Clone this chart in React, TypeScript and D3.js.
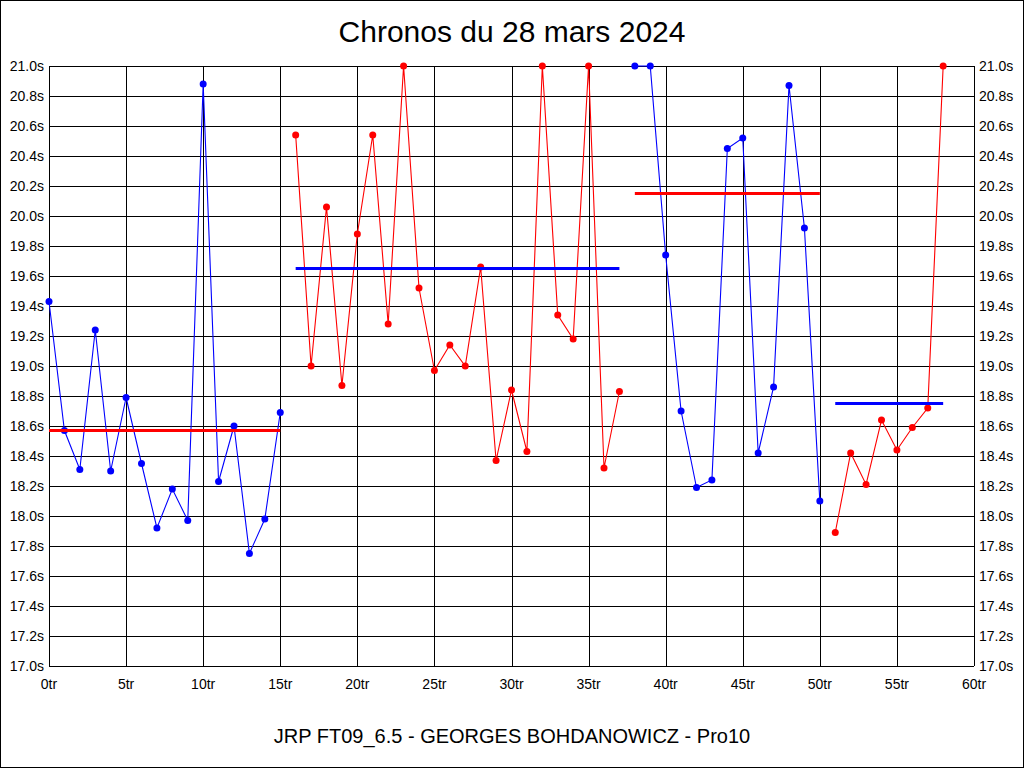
import * as d3 from 'd3';
import React, { useEffect, useRef } from 'react';

// lap times per stint (values above 21.0s are shown clipped at 21.0s)
const stint1 = [19.43, 18.57, 18.31, 19.24, 18.3, 18.79, 18.35, 17.92, 18.18, 17.97, 20.88, 18.23, 18.6, 17.75, 17.98, 18.69];
const stint2 = [
    20.54, 19.0, 20.06, 18.87, 19.88, 20.54, 19.28, 21.0, 19.52, 18.97, 19.14, 19.0, 19.66, 18.37, 18.84, 18.43, 21.0,
    19.34, 19.18, 21.0, 18.32, 18.83,
];
const stint3 = [21.0, 21.0, 19.74, 18.7, 18.19, 18.24, 20.45, 20.52, 18.42, 18.86, 20.87, 19.92, 18.1];
const stint4 = [17.89, 18.42, 18.21, 18.64, 18.44, 18.59, 18.72, 21.0];
const stintStarts = [0, 16, 38, 51];
const stintMeans = [18.57, 19.65, 20.15, 18.75];

const xTicks = d3.range(0, 61, 5);
const yTicks = d3.range(0, 21).map((i) => 17 + i * 0.2);

const title = 'Chronos du 28 mars 2024';
const subtitle = 'JRP FT09_6.5 - GEORGES BOHDANOWICZ - Pro10';

const App = () => {
    const width = 1024;
    const height = 768;
    const margin = { top: 66, bottom: 102, left: 49, right: 50 };
    const ref = useRef<SVGSVGElement>(null);

    useEffect(() => {
        document.body.style.margin = '0';
        draw();
    }, []);

    const draw = () => {
        const svg = d3.select(ref.current);
        svg.selectAll('*').remove();

        const x = d3
            .scaleLinear()
            .domain([0, 60])
            .range([margin.left, width - margin.right]);
        const y = d3
            .scaleLinear()
            .domain([17, 21])
            .range([height - margin.bottom, margin.top]);

        svg.append('rect')
            .attr('x', 0.5)
            .attr('y', 0.5)
            .attr('width', width - 1)
            .attr('height', height - 1)
            .attr('fill', '#fff')
            .attr('stroke', '#000');

        const font = 'Arial, "Liberation Sans", sans-serif';

        svg.append('text')
            .attr('x', width / 2)
            .attr('y', 42)
            .attr('text-anchor', 'middle')
            .style('font-family', font)
            .style('font-size', '30px')
            .text(title);

        svg.append('text')
            .attr('x', width / 2)
            .attr('y', 743)
            .attr('text-anchor', 'middle')
            .style('font-family', font)
            .style('font-size', '20px')
            .text(subtitle);

        // grid
        const grid = svg.append('g').attr('shape-rendering', 'crispEdges').attr('stroke', '#000');
        grid.selectAll('.hgrid')
            .data(yTicks)
            .join('line')
            .attr('x1', x(0))
            .attr('x2', x(60))
            .attr('y1', (d) => Math.round(y(d)) + 0.5)
            .attr('y2', (d) => Math.round(y(d)) + 0.5);
        grid.selectAll('.vgrid')
            .data(xTicks)
            .join('line')
            .attr('y1', y(17))
            .attr('y2', y(21))
            .attr('x1', (d) => Math.round(x(d)) + 0.5)
            .attr('x2', (d) => Math.round(x(d)) + 0.5);

        const labels = svg.append('g').style('font-family', font).style('font-size', '14px');
        labels.selectAll('.yl')
            .data(yTicks)
            .join('text')
            .attr('x', x(0) - 5)
            .attr('y', (d) => y(d) + 5)
            .attr('text-anchor', 'end')
            .text((d) => d3.format('.1f')(d) + 's');
        labels.selectAll('.yr')
            .data(yTicks)
            .join('text')
            .attr('x', x(60) + 5)
            .attr('y', (d) => y(d) + 5)
            .attr('text-anchor', 'start')
            .text((d) => d3.format('.1f')(d) + 's');
        labels.selectAll('.xl')
            .data(xTicks)
            .join('text')
            .attr('x', (d) => x(d))
            .attr('y', 689)
            .attr('text-anchor', 'middle')
            .text((d) => d + 'tr');

        const stints = [stint1, stint2, stint3, stint4];
        const line = d3
            .line<[number, number]>()
            .x((d) => x(d[0]))
            .y((d) => y(d[1]));

        stints.forEach((values, i) => {
            const color = i % 2 === 0 ? '#0000ff' : '#ff0000';
            const meanColor = i % 2 === 0 ? '#ff0000' : '#0000ff';
            const pts: [number, number][] = values.map((v, j) => [stintStarts[i] + j, v]);
            const g = svg.append('g');

            g.append('path')
                .attr('d', line(pts))
                .attr('fill', 'none')
                .attr('stroke', color)
                .attr('stroke-width', 1.1);

            g.selectAll('circle')
                .data(pts)
                .join('circle')
                .attr('cx', (d) => x(d[0]))
                .attr('cy', (d) => y(d[1]))
                .attr('r', 3.5)
                .attr('fill', color);

            const last = stintStarts[i] + values.length - 1;
            g.append('line')
                .attr('x1', x(stintStarts[i]))
                .attr('x2', x(last))
                .attr('y1', y(stintMeans[i]))
                .attr('y2', y(stintMeans[i]))
                .attr('stroke', meanColor)
                .attr('stroke-width', 3);
        });
    };

    return <svg ref={ref} width={width} height={height} style={{ display: 'block' }}></svg>;
};

export default App;
